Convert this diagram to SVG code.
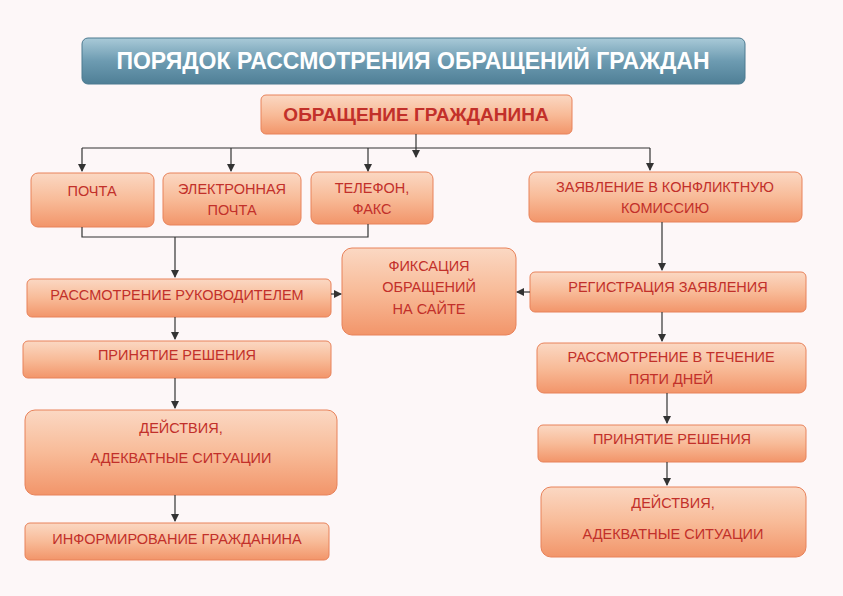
<svg xmlns="http://www.w3.org/2000/svg" width="843" height="596" viewBox="0 0 843 596">
<defs>
<linearGradient id="g" x1="0" y1="0" x2="0" y2="1"><stop offset="0" stop-color="#fbd8c3"/><stop offset="0.5" stop-color="#f8bb98"/><stop offset="1" stop-color="#f2956a"/></linearGradient>
<linearGradient id="gt" x1="0" y1="0" x2="0" y2="1"><stop offset="0" stop-color="#a9cad8"/><stop offset="0.5" stop-color="#6d9bb1"/><stop offset="1" stop-color="#4f7f96"/></linearGradient>
<marker id="a" markerWidth="8" markerHeight="8" refX="7" refY="4" orient="auto" markerUnits="userSpaceOnUse"><path d="M0,0 L8,4 L0,8 z" fill="#333"/></marker>
</defs>
<style>
.b{fill:url(#g);stroke:#e8825a;stroke-width:1}
.t{font-family:"Liberation Sans Narrow","Liberation Sans",sans-serif;font-size:14.5px;fill:#c2302a;text-anchor:middle}
.c{fill:none;stroke:#333;stroke-width:1.2}
</style>
<rect width="843" height="596" fill="#fdf7f8"/>
<g id="title"><rect x="82" y="38" width="663" height="46" rx="6" fill="url(#gt)" stroke="#4c7a90"/><text x="413" y="69" style="font-family:'Liberation Sans Narrow','Liberation Sans',sans-serif;font-size:23px;font-weight:bold;fill:#fff;text-anchor:middle">ПОРЯДОК РАССМОТРЕНИЯ ОБРАЩЕНИЙ ГРАЖДАН</text></g>
<g id="main"><rect class="b" x="261" y="95" width="311" height="39" rx="5"/><text class="t" x="416" y="121" style="font-size:19px;font-weight:bold">ОБРАЩЕНИЕ ГРАЖДАНИНА</text></g>
<g id="pochta"><rect class="b" x="31" y="173" width="123" height="54" rx="7"/><text class="t" x="92" y="196">ПОЧТА</text></g>
<g id="epochta"><rect class="b" x="163" y="173" width="138" height="52" rx="7"/><text class="t" x="232" y="194">ЭЛЕКТРОННАЯ</text><text class="t" x="232" y="215">ПОЧТА</text></g>
<g id="tel"><rect class="b" x="311" y="172" width="122" height="52" rx="7"/><text class="t" x="372" y="193">ТЕЛЕФОН,</text><text class="t" x="372" y="214">ФАКС</text></g>
<g id="zayav"><rect class="b" x="529" y="172" width="273" height="50" rx="7"/><text class="t" x="665" y="192">ЗАЯВЛЕНИЕ В КОНФЛИКТНУЮ</text><text class="t" x="665" y="213">КОМИССИЮ</text></g>
<g id="rukov"><rect class="b" x="27" y="279" width="304" height="38" rx="5"/><text class="t" x="177" y="300">РАССМОТРЕНИЕ  РУКОВОДИТЕЛЕМ</text></g>
<g id="fiks"><rect class="b" x="342" y="248" width="174" height="87" rx="10"/><text class="t" x="429" y="271">ФИКСАЦИЯ</text><text class="t" x="429" y="292">ОБРАЩЕНИЙ</text><text class="t" x="429" y="314">НА САЙТЕ</text></g>
<g id="reg"><rect class="b" x="530" y="272" width="276" height="40" rx="5"/><text class="t" x="668" y="292">РЕГИСТРАЦИЯ  ЗАЯВЛЕНИЯ</text></g>
<g id="prin1"><rect class="b" x="23" y="341" width="308" height="37" rx="5"/><text class="t" x="177" y="360">ПРИНЯТИЕ РЕШЕНИЯ</text></g>
<g id="deyst1"><rect class="b" x="25" y="410" width="312" height="85" rx="10"/><text class="t" x="181" y="433">ДЕЙСТВИЯ,</text><text class="t" x="181" y="463">АДЕКВАТНЫЕ СИТУАЦИИ</text></g>
<g id="inform"><rect class="b" x="25" y="523" width="304" height="37" rx="5"/><text class="t" x="177" y="544">ИНФОРМИРОВАНИЕ  ГРАЖДАНИНА</text></g>
<g id="rassm5"><rect class="b" x="537" y="343" width="269" height="50" rx="7"/><text class="t" x="671" y="362">РАССМОТРЕНИЕ В ТЕЧЕНИЕ</text><text class="t" x="671" y="384">ПЯТИ ДНЕЙ</text></g>
<g id="prin2"><rect class="b" x="538" y="425" width="268" height="37" rx="5"/><text class="t" x="672" y="444">ПРИНЯТИЕ РЕШЕНИЯ</text></g>
<g id="deyst2"><rect class="b" x="541" y="487" width="265" height="70" rx="10"/><text class="t" x="673" y="508">ДЕЙСТВИЯ,</text><text class="t" x="673" y="539">АДЕКВАТНЫЕ СИТУАЦИИ</text></g>
<g id="connectors">
<path class="c" d="M416,134 V157" marker-end="url(#a)"/>
<path class="c" d="M82,148 H650"/>
<path class="c" d="M82,148 V171" marker-end="url(#a)"/>
<path class="c" d="M231,148 V171" marker-end="url(#a)"/>
<path class="c" d="M368,148 V171" marker-end="url(#a)"/>
<path class="c" d="M650,148 V170" marker-end="url(#a)"/>
<path class="c" d="M82,227 V237 H368 V224"/>
<path class="c" d="M175,237 V277" marker-end="url(#a)"/>
<path class="c" d="M331,294 H341" marker-end="url(#a)"/>
<path class="c" d="M530,292 H517" marker-end="url(#a)"/>
<path class="c" d="M662,222 V270" marker-end="url(#a)"/>
<path class="c" d="M175,317 V339" marker-end="url(#a)"/>
<path class="c" d="M175,378 V408" marker-end="url(#a)"/>
<path class="c" d="M175,495 V521" marker-end="url(#a)"/>
<path class="c" d="M662,312 V341" marker-end="url(#a)"/>
<path class="c" d="M667,393 V423" marker-end="url(#a)"/>
<path class="c" d="M667,462 V485" marker-end="url(#a)"/>
</g>
</svg>
